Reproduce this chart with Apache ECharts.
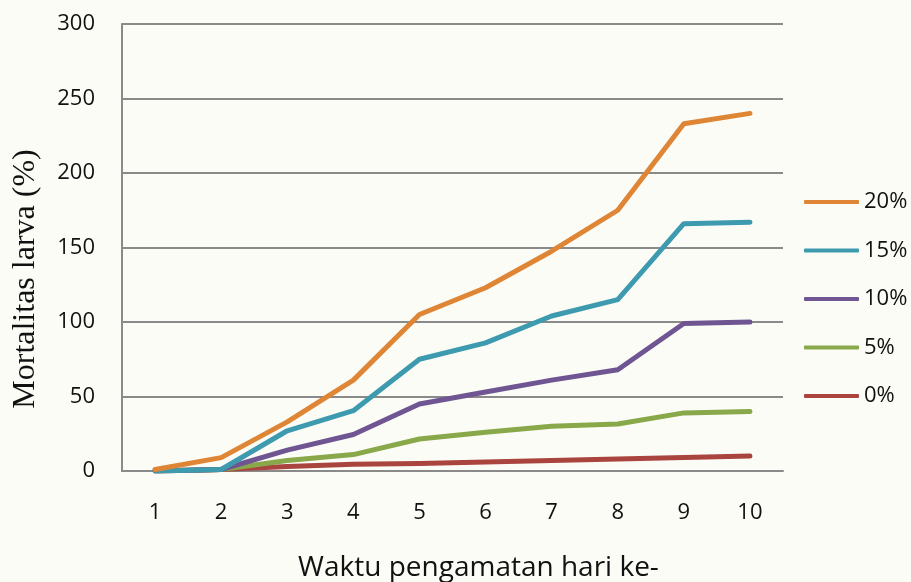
<!DOCTYPE html>
<html>
<head>
<meta charset="utf-8">
<script src="https://cdn.jsdelivr.net/npm/echarts@6/dist/echarts.min.js"></script>
<style>
html,body{margin:0;padding:0;background:#fcfcf7;}
#chart{width:911px;height:582px;}
</style>
</head>
<body>
<div id="chart"></div>
<script>
var days = ['1','2','3','4','5','6','7','8','9','10'];
var yTicks = [0, 50, 100, 150, 200, 250, 300];
var seriesNames = ['0%', '5%', '10%', '15%', '20%'];
var s0  = [0, 1, 3, 4.5, 5, 6, 7, 8, 9, 10];
var s5  = [0, 1, 7, 11, 21.5, 26, 30, 31.5, 39, 40];
var s10 = [0, 1, 14, 24.5, 45, 53, 61, 68, 99, 100];
var s15 = [0, 1, 27, 40.5, 75, 86, 104, 115, 166, 167];
var s20 = [1, 9, 33, 61, 105, 123, 147.5, 175, 233, 240];
var colors = ['#a9443f', '#88a84a', '#6f5592', '#3e9aae', '#df8636'];

var dataSets = [s0, s5, s10, s15, s20];
var chart = echarts.init(document.getElementById('chart'), null, {renderer: 'canvas'});
var series = dataSets.map(function (d, i) {
  return {
    name: seriesNames[i],
    type: 'line',
    data: d,
    symbol: 'none',
    showSymbol: false,
    color: colors[i],
    lineStyle: {width: 5, color: colors[i], cap: 'round', join: 'round'},
    z: 2 + i
  };
});

chart.setOption({
  backgroundColor: '#fcfcf7',
  animation: false,
  grid: {left: 122, top: 24, right: 128, bottom: 111, containLabel: false, outerBoundsMode: 'none'},
  legend: {
    orient: 'vertical',
    left: 804,
    top: 191,
    padding: 0,
    data: ['20%', '15%', '10%', '5%', '0%'],
    icon: 'roundRect',
    itemWidth: 55,
    itemHeight: 4,
    itemGap: 26.5,
    textStyle: {fontFamily: 'Open Sans', fontSize: 22, color: '#111', lineHeight: 22}
  },
  xAxis: {
    type: 'category',
    data: days,
    boundaryGap: true,
    name: 'Waktu pengamatan hari ke-',
    nameLocation: 'middle',
    nameGap: 83,
    nameTextStyle: {fontFamily: 'Open Sans', fontSize: 28, color: '#111', padding: [0, 0, 0, 52]},
    axisLine: {show: true, lineStyle: {color: '#8a8a8a', width: 2}},
    axisTick: {show: false},
    axisLabel: {fontFamily: 'Open Sans', fontSize: 22, color: '#111', margin: 31}
  },
  yAxis: {
    type: 'value',
    min: yTicks[0],
    max: yTicks[yTicks.length - 1],
    interval: yTicks[1] - yTicks[0],
    name: 'Mortalitas larva (%)',
    nameLocation: 'middle',
    nameGap: 80,
    nameTextStyle: {fontFamily: 'Liberation Serif', fontSize: 32, color: '#111', padding: [0, 63, 0, 0]},
    axisLine: {show: true, lineStyle: {color: '#8a8a8a', width: 2}},
    axisTick: {show: false},
    axisLabel: {fontFamily: 'Open Sans', fontSize: 22, color: '#111', margin: 27},
    splitLine: {show: true, lineStyle: {color: '#8a8a8a', width: 2}}
  },
  series: series
});
</script>
</body>
</html>
